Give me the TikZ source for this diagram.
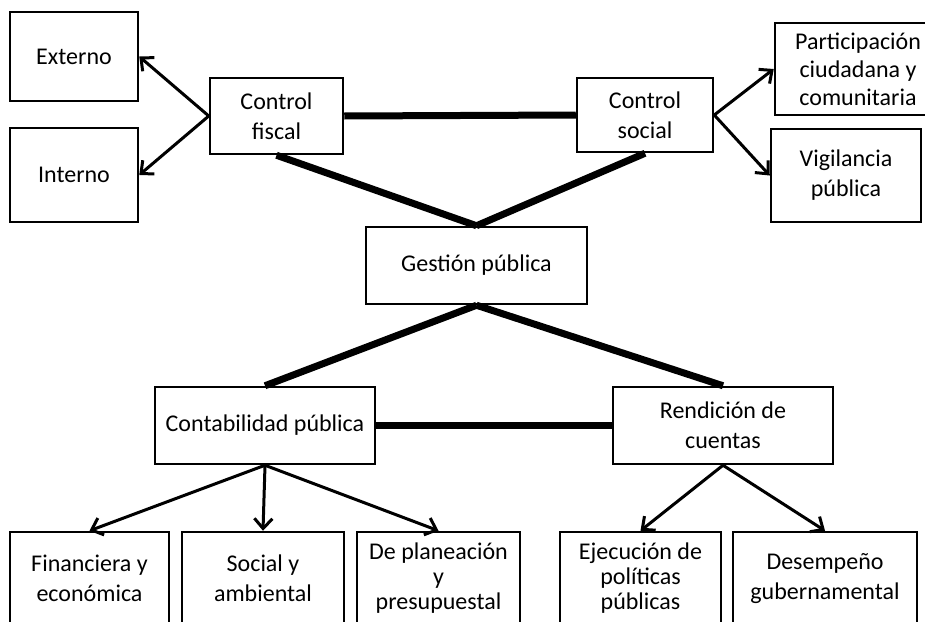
\documentclass[tikz,border=0pt]{standalone}
\usepackage{fontspec}
\setmainfont{Carlito}
\usetikzlibrary{arrows.meta}

\tikzstyle{box_node} = [rectangle, draw=black, line width=2.5pt, text centered, align=center, font=\fontsize{24}{30}\selectfont, inner sep=2pt]
\tikzstyle{arrow} = [line width=3pt, -{Straight Barb[length=10pt,width=18pt]}]
\tikzstyle{link} = [line width=7pt]

\begin{document}
\begin{tikzpicture}[x=1pt, y=-1pt]
    \useasboundingbox (0,0) rectangle (925,621);
    \clip (0,0) rectangle (925,621);
    \fill [white] (0,0) rectangle (925,621);

    % upper level
    \node (ext)    [box_node, minimum width=128pt, minimum height=89pt] at (74,56.5) {Externo};
    \node (int)    [box_node, minimum width=128pt, minimum height=94pt] at (74,175) {Interno};
    \node (fiscal) [box_node, minimum width=133pt, minimum height=76pt] at (276.5,116) {Control\\fiscal};
    \node (social) [box_node, minimum width=136pt, minimum height=74pt] at (645,115) {Control\\social};
    \node (partic) [box_node, minimum width=166pt, minimum height=92pt] at (858,69) {Participación\\[-2pt]ciudadana y\\[-2pt]comunitaria};
    \node (vigil)  [box_node, minimum width=150pt, minimum height=93pt] at (846,175.5) {Vigilancia\\pública};

    % middle level
    \node (gestion) [box_node, minimum width=221pt, minimum height=77pt] at (476.5,265.5) {Gestión pública};
    \node (contab)  [box_node, minimum width=220pt, minimum height=77pt] at (265,425.5) {Contabilidad pública};
    \node (rendic)  [box_node, minimum width=220pt, minimum height=77pt] at (723,425.5) {Rendición de\\cuentas};

    % lower level
    \node (fin)    [box_node, minimum width=159pt, minimum height=93pt] at (89.5,578.5) {Financiera y\\económica};
    \node (socamb) [box_node, minimum width=162pt, minimum height=93pt] at (263,578.5) {Social y\\ambiental};
    \node (plan)   [box_node, minimum width=163pt, minimum height=93pt] at (438.5,578.5) {De planeación\\[-5pt]y\\[-5pt]presupuestal};
    \node (ejec)   [box_node, minimum width=161pt, minimum height=93pt] at (640.5,578.5) {Ejecución de\\[-5pt]políticas\\[-5pt]públicas};
    \node (desemp) [box_node, minimum width=184pt, minimum height=93pt] at (825,578.5) {Desempeño\\gubernamental};

    \draw [arrow] (fiscal.west) -- (ext.east);
    \draw [arrow] (fiscal.west) -- (int.east);
    \draw [arrow] (social.east) -- (partic.west);
    \draw [arrow] (social.east) -- (vigil.west);

    \draw [link] (fiscal.east) -- (social.west);
    \draw [link] (fiscal.south) -- (gestion.north);
    \draw [link] (social.south) -- (gestion.north);
    \draw [link] (gestion.south) -- (contab.north);
    \draw [link] (gestion.south) -- (rendic.north);
    \draw [link] (contab.east) -- (rendic.west);

    \draw [arrow] (contab.south) -- (fin.north);
    \draw [arrow] (contab.south) -- (socamb.north);
    \draw [arrow] (contab.south) -- (plan.north);
    \draw [arrow] (rendic.south) -- (ejec.north);
    \draw [arrow] (rendic.south) -- (desemp.north);
\end{tikzpicture}
\end{document}
